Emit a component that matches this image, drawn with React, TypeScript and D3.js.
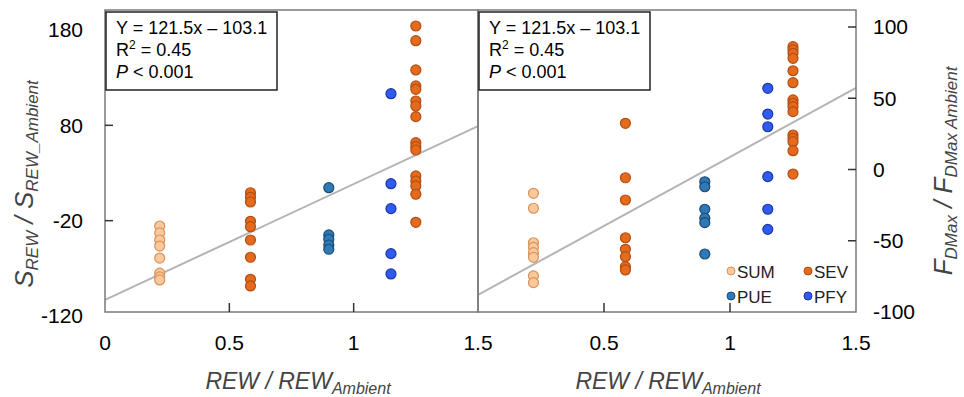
import React from "react";
import * as d3 from "d3";

// group x positions (REW / REW_Ambient)
const groupX = { SUM: 0.22, SEV1: 0.585, PUE: 0.9, PFY: 1.15, SEV2: 1.25 };

// left panel: S_REW / S_REW_Ambient
const leftSUM = [-25.6, -32.9, -40.3, -46.6, -59.2, -75, -79, -82.2];
const leftSEV1 = [9.3, 4.5, -0.4, -20.7, -26.3, -40.3, -58.4, -81.5, -88.5];
const leftPUE = [14.6, -35, -39.5, -45.5, -50];
const leftPFY = [113.2, 18.8, -7.4, -54.6, -75.9];
const leftSEV2 = [184.2, 168.8, 138.1, 121.3, 117.8, 105.5, 100.3, 89.1, 61.8, 57.6, 54.1, 26.9, 21.6, 16.4, 7.7, -21.7];

// right panel: F_DMax / F_DMax_Ambient
const rightSUM = [-16.7, -27.2, -51.4, -54.6, -58.4, -61.6, -74.7, -79.4];
const rightSEV1 = [32.4, -5.8, -21.4, -47.9, -56, -61.2, -68.2, -70.5];
const rightPUE = [-8.6, -12.1, -27.9, -34.2, -37.3, -59.3];
const rightPFY = [57, 38.9, 30, -5, -27.9, -42];
const rightSEV2 = [86.2, 83.9, 81.5, 78, 69.3, 60.9, 48.8, 46.5, 44.1, 40.6, 24.2, 21.9, 19.5, 13.2, -3.2];

// fitted lines
const leftFit = { slope: 121.5, intercept: -103.1 };
const rightFit = { slope: 96.8, intercept: -88 };

const leftYTicks = [180, 80, -20, -120];
const rightYTicks = [100, 50, 0, -50, -100];
const leftXTicks = [0, 0.5, 1, 1.5];
const rightXTicks = [0.5, 1, 1.5];

const styles: Record<string, { fill: string; stroke: string }> = {
  SUM: { fill: "#f8c99c", stroke: "#d9935a" },
  SEV: { fill: "#e46a1e", stroke: "#b24e12" },
  PUE: { fill: "#2f79b5", stroke: "#1b4a78" },
  PFY: { fill: "#2f5bf0", stroke: "#1b37a8" },
};

const FONT = "'Liberation Sans', Arial, sans-serif";

export default function App() {
  const width = 964;
  const height = 397;
  const top = 10;
  const bottom = 312;

  const xL = d3.scaleLinear().domain([0, 1.5]).range([105, 478]);
  const xR = d3.scaleLinear().domain([0, 1.5]).range([478, 856]);
  const yL = d3.scaleLinear().domain([-120, 180]).range([316, 30]);
  const yR = d3.scaleLinear().domain([-100, 100]).range([312, 27]);

  const leftGroups = [
    { key: "SUM", x: groupX.SUM, ys: leftSUM },
    { key: "SEV", x: groupX.SEV1, ys: leftSEV1 },
    { key: "PUE", x: groupX.PUE, ys: leftPUE },
    { key: "PFY", x: groupX.PFY, ys: leftPFY },
    { key: "SEV", x: groupX.SEV2, ys: leftSEV2 },
  ];
  const rightGroups = [
    { key: "SUM", x: groupX.SUM, ys: rightSUM },
    { key: "SEV", x: groupX.SEV1, ys: rightSEV1 },
    { key: "PUE", x: groupX.PUE, ys: rightPUE },
    { key: "PFY", x: groupX.PFY, ys: rightPFY },
    { key: "SEV", x: groupX.SEV2, ys: rightSEV2 },
  ];

  const line = (fit: { slope: number; intercept: number }, xs: d3.ScaleLinear<number, number>, ys: d3.ScaleLinear<number, number>) =>
    d3.line<number>()
      .x((d) => xs(d))
      .y((d) => ys(fit.slope * d + fit.intercept))([0, 1.5]) || "";

  const dots = (groups: typeof leftGroups, xs: d3.ScaleLinear<number, number>, ys: d3.ScaleLinear<number, number>) =>
    groups.map((g, gi) =>
      g.ys.map((v, i) => (
        <circle
          key={`${gi}-${i}`}
          cx={xs(g.x)}
          cy={ys(v)}
          r={5}
          fill={styles[g.key].fill}
          stroke={styles[g.key].stroke}
          strokeWidth={1.2}
        />
      ))
    );

  const statBox = (x0: number) => (
    <g transform={`translate(${x0},${top + 2})`}>
      <rect x={0} y={0} width={171} height={78} fill="#fff" stroke="#222" strokeWidth={1.5} />
      <text x={10} y={22} fontSize={18}>Y = 121.5x – 103.1</text>
      <text x={10} y={44} fontSize={18}>
        R<tspan fontSize={12} dy={-7}>2</tspan><tspan dy={7}> = 0.45</tspan>
      </text>
      <text x={10} y={66} fontSize={18}>
        <tspan fontStyle="italic">P</tspan> &lt; 0.001
      </text>
    </g>
  );

  const legend = [
    { key: "SUM", col: 0, row: 0 },
    { key: "SEV", col: 1, row: 0 },
    { key: "PUE", col: 0, row: 1 },
    { key: "PFY", col: 1, row: 1 },
  ];

  return (
    <div style={{ position: "fixed", left: 0, top: 0 }}>
      <svg width={width} height={height} style={{ display: "block", fontFamily: FONT }}>
        <rect width={width} height={height} fill="#fff" />

        {/* fit lines */}
        <path d={line(leftFit, xL, yL)} stroke="#b4b4b4" strokeWidth={2} fill="none" />
        <path d={line(rightFit, xR, yR)} stroke="#b4b4b4" strokeWidth={2} fill="none" />

        {/* frames */}
        <rect x={xL(0)} y={top} width={xL(1.5) - xL(0)} height={bottom - top} fill="none" stroke="#7a7a7a" strokeWidth={1.5} />
        <rect x={xR(0)} y={top} width={xR(1.5) - xR(0)} height={bottom - top} fill="none" stroke="#7a7a7a" strokeWidth={1.5} />

        {/* ticks */}
        {[80, -20].map((t) => (
          <line key={`ly${t}`} x1={xL(0)} x2={xL(0) + 8} y1={yL(t)} y2={yL(t)} stroke="#333" strokeWidth={1.5} />
        ))}
        {rightYTicks.slice(0, 4).map((t) => (
          <line key={`ry${t}`} x1={xR(1.5) - 8} x2={xR(1.5)} y1={yR(t)} y2={yR(t)} stroke="#333" strokeWidth={1.5} />
        ))}
        {[0.5, 1].map((t) => (
          <line key={`lx${t}`} x1={xL(t)} x2={xL(t)} y1={bottom} y2={bottom - 9} stroke="#333" strokeWidth={1.5} />
        ))}
        {[0.5, 1].map((t) => (
          <line key={`rx${t}`} x1={xR(t)} x2={xR(t)} y1={bottom} y2={bottom - 9} stroke="#333" strokeWidth={1.5} />
        ))}

        {dots(leftGroups, xL, yL)}
        {dots(rightGroups, xR, yR)}

        {statBox(xL(0) + 1)}
        {statBox(xR(0) + 1)}

        {/* legend */}
        {legend.map((l) => (
          <g key={l.key} transform={`translate(${731 + l.col * 77},${271 + l.row * 25})`}>
            <circle r={4} fill={styles[l.key].fill} stroke={styles[l.key].stroke} strokeWidth={1} />
            <text x={6} y={7} fontSize={17} fill="#222">{l.key}</text>
          </g>
        ))}

        {/* tick labels */}
        {leftYTicks.map((t) => (
          <text key={`lyl${t}`} x={83} y={yL(t)} dy="0.35em" textAnchor="end" fontSize={21}>{t}</text>
        ))}
        {rightYTicks.map((t) => (
          <text key={`ryl${t}`} x={873} y={yR(t)} dy="0.35em" textAnchor="start" fontSize={21}>{t}</text>
        ))}
        {leftXTicks.map((t) => (
          <text key={`lxl${t}`} x={xL(t)} y={350} textAnchor="middle" fontSize={21}>{t}</text>
        ))}
        {rightXTicks.map((t) => (
          <text key={`rxl${t}`} x={xR(t)} y={350} textAnchor="middle" fontSize={21}>{t}</text>
        ))}

        {/* axis titles */}
        <text x={298} y={389} textAnchor="middle" fontSize={23} fontStyle="italic" fill="#444">
          REW / REW<tspan fontSize={16} dy={5}>Ambient</tspan>
        </text>
        <text x={668} y={389} textAnchor="middle" fontSize={23} fontStyle="italic" fill="#444">
          REW / REW<tspan fontSize={16} dy={5}>Ambient</tspan>
        </text>
        <text transform="translate(33,184) rotate(-90)" textAnchor="middle" fontSize={26} fontStyle="italic" fill="#444">
          S<tspan fontSize={17} dy={5}>REW</tspan><tspan dy={-5}> / S</tspan><tspan fontSize={17} dy={5}>REW_Ambient</tspan>
        </text>
        <text transform="translate(952,171) rotate(-90)" textAnchor="middle" fontSize={26} fontStyle="italic" fill="#444">
          F<tspan fontSize={17} dy={5}>DMax</tspan><tspan dy={-5}> / F</tspan><tspan fontSize={17} dy={5}>DMax  Ambient</tspan>
        </text>
      </svg>
    </div>
  );
}
